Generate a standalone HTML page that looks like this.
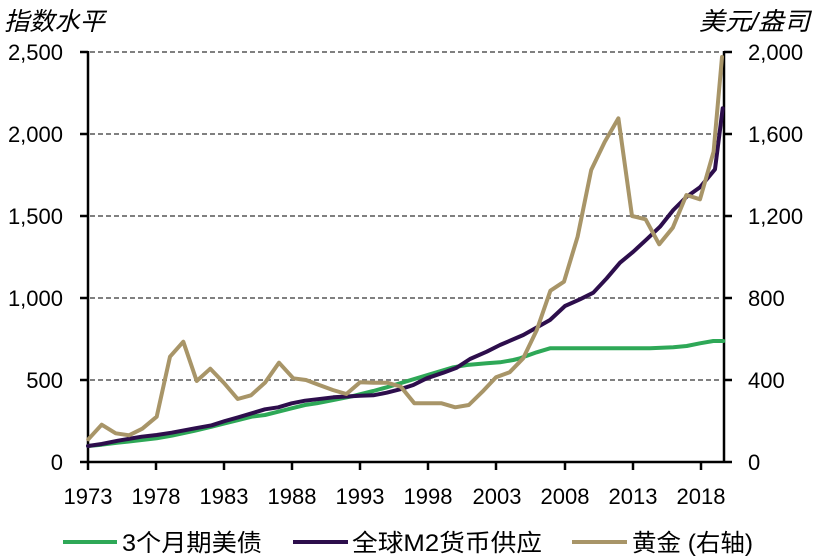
<!DOCTYPE html>
<html><head><meta charset="utf-8"><style>
html,body{margin:0;padding:0;background:#fff;}
svg{display:block;}
text{font-family:"Liberation Sans","Noto Sans CJK SC",sans-serif;fill:#000;}
</style></head><body>
<svg width="819" height="559" viewBox="0 0 819 559" xmlns="http://www.w3.org/2000/svg">
<g stroke="#808080" stroke-width="2" stroke-dasharray="5 3">
<line x1="90" y1="52" x2="722" y2="52"/>
<line x1="90" y1="134" x2="722" y2="134"/>
<line x1="90" y1="216" x2="722" y2="216"/>
<line x1="90" y1="298" x2="722" y2="298"/>
<line x1="90" y1="380" x2="722" y2="380"/>
</g>
<g stroke="#000" stroke-width="2.5" fill="none">
<line x1="88" y1="51" x2="88" y2="463"/>
<line x1="724" y1="51" x2="724" y2="463"/>
<line x1="80" y1="462" x2="732" y2="462"/>
<line x1="80" y1="52" x2="88" y2="52"/><line x1="80" y1="134" x2="88" y2="134"/><line x1="80" y1="216" x2="88" y2="216"/><line x1="80" y1="298" x2="88" y2="298"/><line x1="80" y1="380" x2="88" y2="380"/>
<line x1="724" y1="52" x2="732" y2="52"/><line x1="724" y1="134" x2="732" y2="134"/><line x1="724" y1="216" x2="732" y2="216"/><line x1="724" y1="298" x2="732" y2="298"/><line x1="724" y1="380" x2="732" y2="380"/>
<line x1="88" y1="462" x2="88" y2="470"/><line x1="156" y1="462" x2="156" y2="470"/><line x1="224" y1="462" x2="224" y2="470"/><line x1="292" y1="462" x2="292" y2="470"/><line x1="360" y1="462" x2="360" y2="470"/><line x1="428" y1="462" x2="428" y2="470"/><line x1="496" y1="462" x2="496" y2="470"/><line x1="565" y1="462" x2="565" y2="470"/><line x1="633" y1="462" x2="633" y2="470"/><line x1="701" y1="462" x2="701" y2="470"/>
</g>
<g fill="none" stroke-width="4" stroke-linejoin="round" stroke-linecap="round">
<polyline stroke="#2EA857" points="88,446 101.7,444.7 118,442.7 141.7,440 156.7,438.3 171.7,435.7 195,430.7 211.7,426.7 225,423.3 238.3,420 251.7,416.7 265,415 278.3,411.7 291.7,408.3 305,405 316.7,403.3 333.3,400 353.3,396 373.3,391 386.7,387.3 400,383.3 416.7,378.3 433.3,373.3 453.3,367.3 466.7,365 486.7,363.3 500,362.3 513.3,360 520,358.3 536.7,352.3 550,348.3 600,348.3 650,348.3 673.3,347.3 686.7,346 700,343.3 713.3,341 723.3,341"/>
<polyline stroke="#2D0E4C" points="88,446 101.7,444 118,440.7 141.7,436.7 156.7,435 171.7,432.7 195,428.3 211.7,425.3 225,421 238.3,417.3 251.7,413.3 265,409.3 278.3,407.3 291.7,403.3 305,400.7 316.7,399.3 333.3,397.3 360,395.7 373.3,395.3 386.7,392.7 400,389.3 413.3,385 426.7,378.3 443.3,372.7 456.7,367.7 470,359 486.7,351.7 500,345 523.3,335 550,320 565,306 580,299.3 593.3,292.7 606.7,278.3 620,262.7 633.3,251.7 646.7,239.3 660,226.7 673.3,210 686.7,196.7 700,187.3 715,169.3 722.7,108.3"/>
<polyline stroke="#A89568" points="88.3,439.3 101.7,424.7 115.7,433.3 129,435.3 142.3,428.7 156.7,416.7 170,356.7 183.3,341.7 196.7,381 210.3,368.7 224,383 237.7,399 251,395.3 265,382.7 279,362.7 293.3,378.3 306,380 319.2,385 332.8,390 346.4,394 360,382.3 373.6,382.7 387.2,382.7 400.8,386.7 414.4,403.3 428,403.3 441.6,403.3 455.2,407.3 468.8,405 482.4,391.7 496,377.3 509.6,372.3 523.2,358.3 536.8,330 550.4,290.7 564,281.7 577.6,236.7 591.2,170 604.8,141.7 618.4,118.3 632,216 645.6,219.3 659.2,244.3 672.8,227.7 686.4,195 700,199.3 713.6,151.7 722,57"/>
</g>
<g font-size="22" text-anchor="end">
<text x="63" y="60">2,500</text>
<text x="63" y="142">2,000</text>
<text x="63" y="224">1,500</text>
<text x="63" y="306">1,000</text>
<text x="63" y="388">500</text>
<text x="63" y="470">0</text>
</g>
<g font-size="22" text-anchor="start">
<text x="748" y="60">2,000</text>
<text x="748" y="142">1,600</text>
<text x="748" y="224">1,200</text>
<text x="748" y="306">800</text>
<text x="748" y="388">400</text>
<text x="748" y="470">0</text>
</g>
<g font-size="22" text-anchor="middle">
<text x="88" y="504">1973</text>
<text x="156" y="504">1978</text>
<text x="224" y="504">1983</text>
<text x="292" y="504">1988</text>
<text x="360" y="504">1993</text>
<text x="428" y="504">1998</text>
<text x="497" y="504">2003</text>
<text x="565" y="504">2008</text>
<text x="633" y="504">2013</text>
<text x="701" y="504">2018</text>
</g>
<text x="4" y="30" font-size="25" font-style="italic" textLength="101" lengthAdjust="spacingAndGlyphs">指数水平</text>
<text x="699" y="30" font-size="25" font-style="italic" textLength="111" lengthAdjust="spacingAndGlyphs">美元/盎司</text>
<g stroke-width="4">
<line x1="63" y1="542" x2="117" y2="542" stroke="#2EA857"/>
<line x1="293" y1="542" x2="348" y2="542" stroke="#2D0E4C"/>
<line x1="572" y1="542" x2="627" y2="542" stroke="#A89568"/>
</g>
<g font-size="24">
<text x="122" y="551" textLength="140" lengthAdjust="spacingAndGlyphs">3个月期美债</text>
<text x="352" y="551" textLength="190" lengthAdjust="spacingAndGlyphs">全球M2货币供应</text>
<text x="632" y="551" textLength="121" lengthAdjust="spacingAndGlyphs">黄金 (右轴)</text>
</g>
</svg>
</body></html>
